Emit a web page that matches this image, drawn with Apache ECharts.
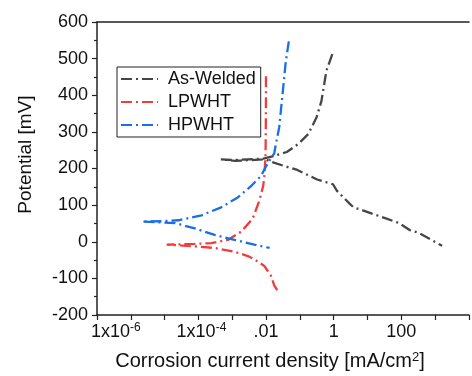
<!DOCTYPE html>
<html>
<head>
<meta charset="utf-8">
<script src="https://cdn.jsdelivr.net/npm/echarts@6/dist/echarts.min.js"></script>
<style>html,body{margin:0;padding:0;background:#fff}#c{width:472px;height:376px}</style>
</head>
<body>
<div id="c"></div>
<script>
// Data (current density in mA/cm2, potential in mV)
const seriesNames = ['As-Welded', 'LPWHT', 'HPWHT'];
const seriesColors = ['#464646', '#f03c3c', '#1a6fe6'];

const asWeldedX = [0.91, 0.607, 0.433, 0.309, 0.176, 0.0897, 0.041, 0.0166, 0.0084, 0.0011, 0.00046, 0.0012, 0.0096, 0.0133, 0.04, 0.084, 0.323, 0.95, 1.25, 2.94, 3.86, 7.6, 36.5, 86, 176, 333, 1600];
const asWeldedY = [512, 467, 384, 339, 294, 267, 245, 234, 227, 223, 225, 221, 225, 219, 205, 196, 170, 157, 139, 104, 94, 85, 63, 51, 32, 24, -11];

const lpwhtX = [0.0099, 0.0099, 0.0098, 0.0096, 0.00885, 0.0082, 0.0063, 0.004, 0.00182, 0.00074, 0.00024, 0.000078, 0.0000115, 0.000078, 0.0003, 0.00117, 0.00288, 0.0045, 0.00885, 0.0139, 0.0174, 0.0244];
const lpwhtY = [452, 392, 300, 232, 179, 152, 112, 63, 27.5, 5, -3.5, -6, -8, -12.5, -17, -27.5, -39, -48, -66, -92.5, -119, -141];

const hpwhtX = [0.047, 0.038, 0.0305, 0.0244, 0.0195, 0.0174, 0.0111, 0.007, 0.00358, 0.00146, 0.00047, 0.000123, 0.0000254, 0.0000082, 0.00000214, 0.0000202, 0.000078, 0.0003, 0.00116, 0.0045, 0.0127];
const hpwhtY = [547, 490, 401, 312, 267, 241, 214, 179, 152, 121, 94, 72, 58.7, 56, 55, 51, 36.5, 18.7, 5.3, -8, -17];

const xMin = 1e-7, xMax = 1e4;
const yMin = -200, yMax = 600, yInterval = 100;

function pairs(xs, ys) { return xs.map((x, i) => [x, ys[i]]); }
const allX = [asWeldedX, lpwhtX, hpwhtX];
const allY = [asWeldedY, lpwhtY, hpwhtY];

const chart = echarts.init(document.getElementById('c'), null, {renderer: 'canvas'});
const font = 'Liberation Sans, Arial, sans-serif';

chart.setOption({
  animation: false,
  grid: {left: 97, right: -1, top: 22, bottom: 55},
  legend: {
    orient: 'vertical',
    left: 117, top: 67,
    padding: [2, 5, 2, 3],
    itemGap: 3,
    itemWidth: 37,
    itemHeight: 14,
    borderColor: '#222',
    borderWidth: 1,
    itemStyle: {opacity: 0},
    textStyle: {fontFamily: font, fontSize: 18, color: '#111', lineHeight: 20, padding: [0, 0, 0, 5]},
    data: seriesNames
  },
  xAxis: [{
    type: 'log', logBase: 10, min: xMin, max: xMax, interval: 1,
    axisLine: {onZero: false, lineStyle: {color: '#222', width: 1.5}},
    axisTick: {show: true, inside: false, length: 5, lineStyle: {color: '#222', width: 1.2}},
    splitLine: {show: false},
    axisLabel: {
      margin: 7, color: '#111', fontFamily: font, fontSize: 18,
      formatter: function (v) {
        const e = Math.round(Math.log10(v));
        if (e === -6) return '{f|1x10}{fs|-6}';
        if (e === -4) return '{g|1x10}{sup|-4}';
        if (e === -2) return '{n|.01}';
        if (e === 0) return '{n|1}';
        if (e === 2) return '{n|100}';
        return '';
      },
      rich: {
        n: {fontFamily: font, fontSize: 18, lineHeight: 20, color: '#111'},
        sup: {fontFamily: font, fontSize: 12, lineHeight: 12, verticalAlign: 'top', color: '#111'},
        f: {fontFamily: font, fontSize: 18, lineHeight: 20, color: '#111'},
        g: {fontFamily: font, fontSize: 18, lineHeight: 20, color: '#111', padding: [0, 0, 0, 6]},
        fs: {fontFamily: font, fontSize: 12, lineHeight: 12, verticalAlign: 'top', color: '#111', padding: [0, 30, 0, 0]}
      }
    },
    name: 'Corrosion current density [mA/cm{sup|2}]',
    nameLocation: 'middle',
    nameGap: 36,
    nameTextStyle: {
      fontFamily: font, fontSize: 20, color: '#111', padding: [0, 26, 0, 0],
      rich: {sup: {fontFamily: font, fontSize: 13, lineHeight: 13, verticalAlign: 'top', color: '#111'}}
    }
  }, {
    type: 'log', logBase: 10, min: xMin, max: xMax, position: 'top',
    axisLine: {show: true, onZero: false, lineStyle: {color: '#222', width: 1.5}},
    axisTick: {show: false}, axisLabel: {show: false}, splitLine: {show: false}
  }],
  yAxis: {
    type: 'value', min: yMin, max: yMax, interval: yInterval,
    axisLine: {show: true, onZero: false, lineStyle: {color: '#222', width: 1.5}},
    axisTick: {show: true, inside: false, length: 5, lineStyle: {color: '#222', width: 1.2}},
    minorTick: {show: true, splitNumber: 2, length: 3, lineStyle: {color: '#222', width: 1.2}},
    splitLine: {show: false},
    axisLabel: {margin: 9, color: '#111', fontFamily: font, fontSize: 18},
    name: 'Potential [mV]',
    nameLocation: 'middle',
    nameGap: 62,
    nameTextStyle: {fontFamily: font, fontSize: 19, color: '#111', padding: [0, 0, 0, 28]}
  },
  series: seriesNames.map((name, i) => ({
    name: name,
    type: 'line',
    xAxisIndex: 0,
    data: pairs(allX[i], allY[i]),
    symbol: 'none',
    smooth: false,
    color: seriesColors[i],
    lineStyle: {color: seriesColors[i], width: 2.3, type: [11, 4, 2, 4]}
  }))
});
</script>
</body>
</html>
